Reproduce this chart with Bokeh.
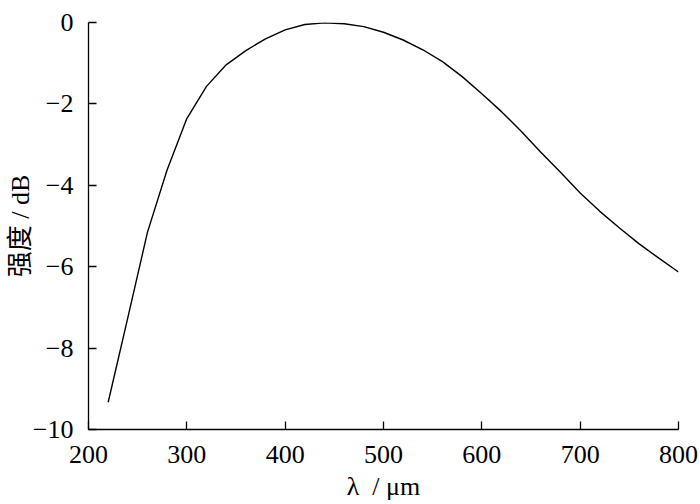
from bokeh.plotting import figure
from bokeh.models import FixedTicker, Range1d, CustomJSTickFormatter
from bokeh.embed import file_html
from bokeh.resources import INLINE

# ---- data ----
wavelength = [220, 240, 260, 280, 300, 320, 340, 360, 380, 400,
              420, 440, 460, 480, 500, 520, 540, 560, 580, 600,
              620, 640, 660, 680, 700, 720, 740, 760, 780, 800]
intensity = [-9.33, -7.25, -5.15, -3.62, -2.36, -1.57, -1.04, -0.69, -0.40, -0.18,
             -0.05, -0.01, -0.03, -0.10, -0.24, -0.43, -0.67, -0.96, -1.33, -1.75,
             -2.19, -2.67, -3.19, -3.68, -4.19, -4.64, -5.05, -5.44, -5.79, -6.13]
x_ticks = [200, 300, 400, 500, 600, 700, 800]
y_ticks = [-10, -8, -6, -4, -2, 0]
x_label = "λ\u00a0 / μm"
y_label = "强度 / dB"

SERIF = "'Liberation Serif', 'Noto Sans CJK SC'"
LATIN = "'Liberation Serif'"

p = figure(width=700, height=504, output_backend="svg", toolbar_location=None,
           x_range=Range1d(200, 800), y_range=Range1d(-10, 0),
           min_border_left=88, min_border_right=22, min_border_top=22,
           min_border_bottom=75)
p.outline_line_color = None
p.grid.visible = False
p.background_fill_color = "white"
p.border_fill_color = "white"

p.line(wavelength, intensity, line_color="black", line_width=1.4)

fmt = CustomJSTickFormatter(code="return tick < 0 ? '\u2212' + Math.abs(tick) : String(tick);")
for ax, ticks in ((p.xaxis[0], x_ticks), (p.yaxis[0], y_ticks)):
    ax.ticker = FixedTicker(ticks=ticks)
    ax.formatter = fmt
    ax.major_tick_in = 8
    ax.major_tick_out = 0
    ax.major_tick_line_color = "black"
    ax.major_tick_line_width = 1.3
    ax.minor_tick_line_color = None
    ax.axis_line_color = "black"
    ax.axis_line_width = 1.3
    ax.major_label_text_font = LATIN
    ax.major_label_text_font_size = "26px"
    ax.major_label_text_color = "black"
    ax.axis_label_text_font_size = "26px"
    ax.axis_label_text_font_style = "normal"
    ax.axis_label_text_color = "black"
p.xaxis[0].axis_label_text_font = LATIN
p.yaxis[0].axis_label_text_font = SERIF
p.yaxis[0].major_label_standoff = 15
p.xaxis[0].major_label_standoff = 16
p.yaxis[0].axis_label = y_label
p.xaxis[0].axis_label = x_label
p.yaxis[0].axis_label_standoff = -5
p.xaxis[0].axis_label_standoff = 6

open("out.html", "w").write(file_html(p, INLINE))
